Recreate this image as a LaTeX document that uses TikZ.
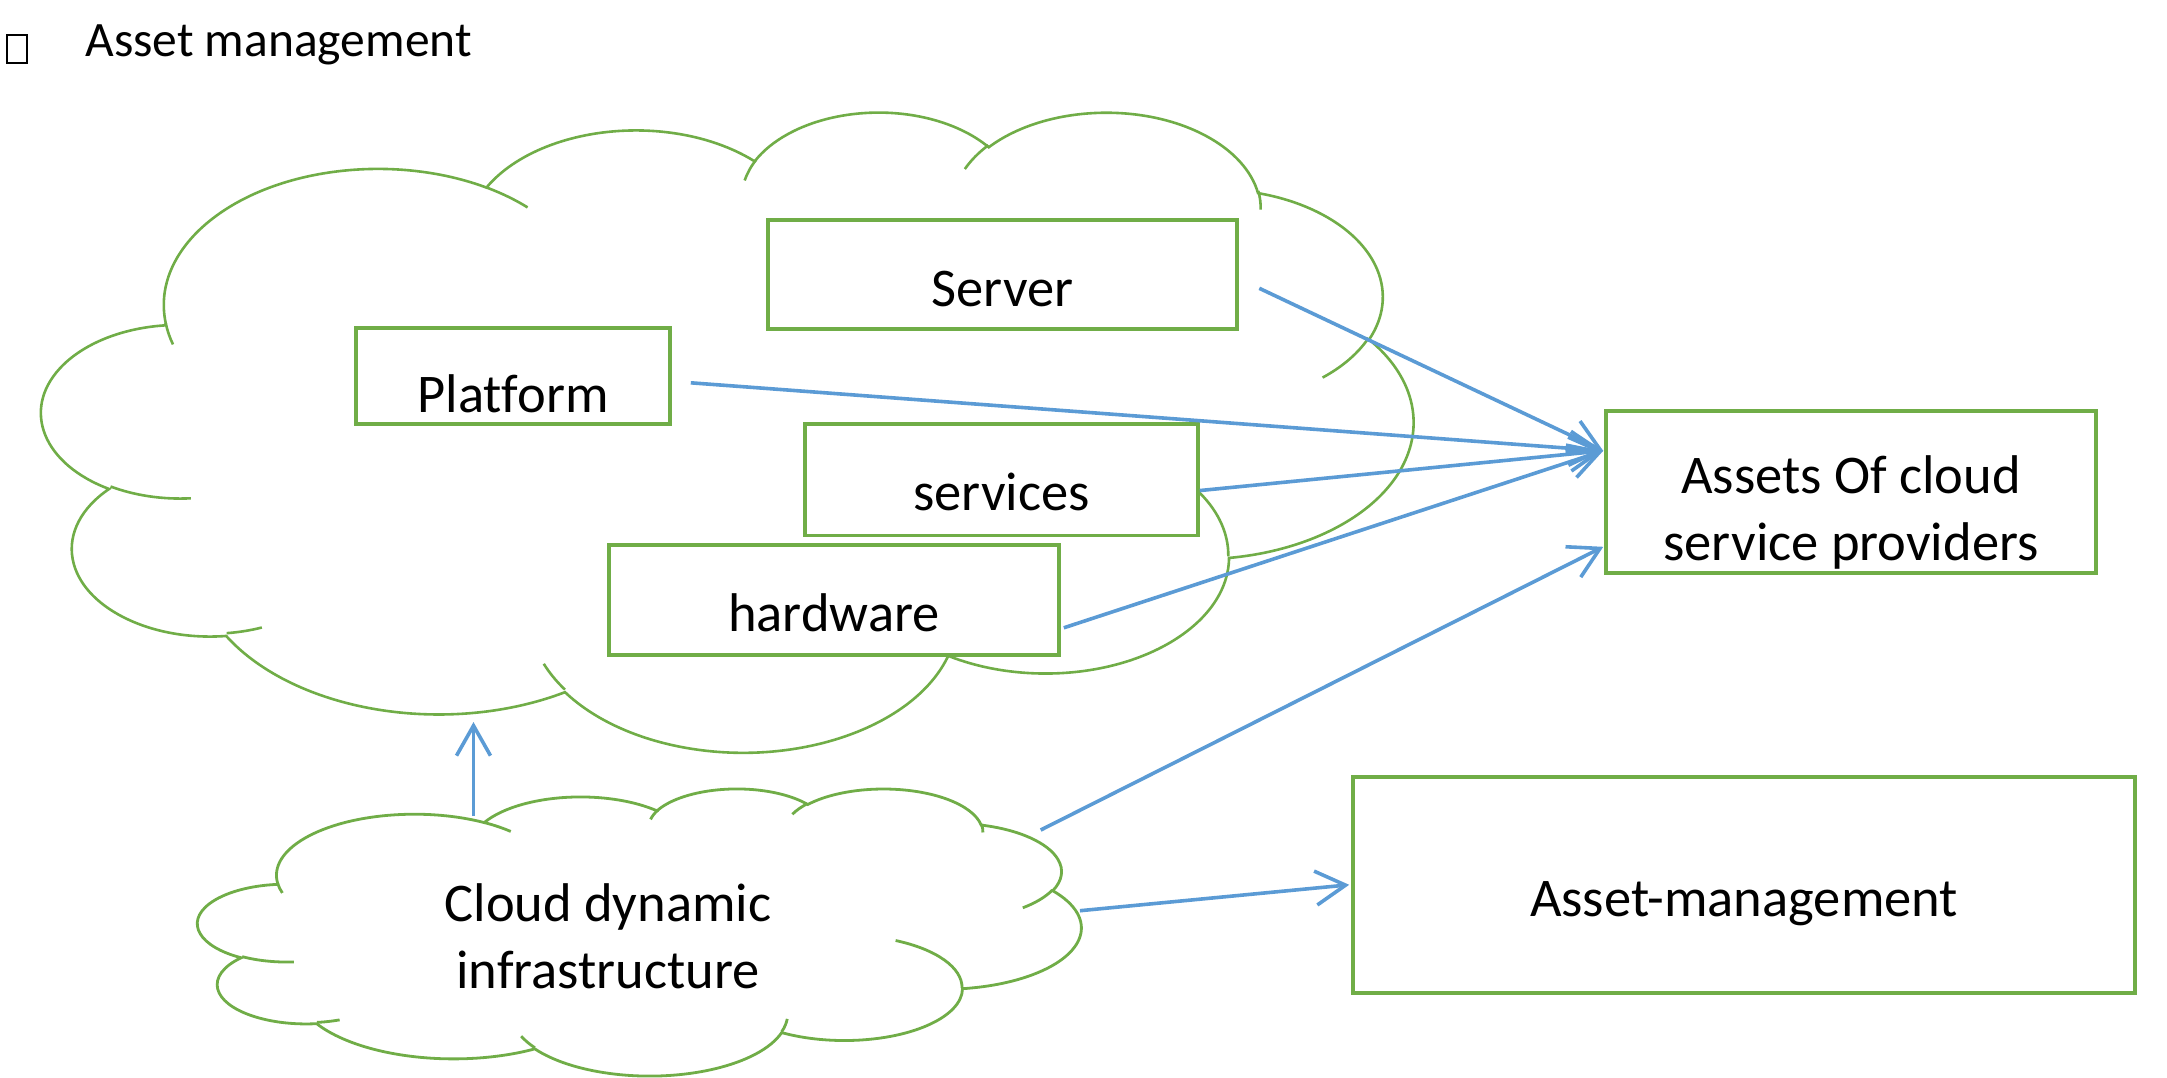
\documentclass[tikz,border=0pt]{standalone}
\usepackage{fontspec}
\setmainfont{Carlito}[Ligatures=NoCommon]
\usetikzlibrary{arrows.meta,positioning}

\definecolor{boxgreen}{RGB}{112,173,71}
\definecolor{arrowblue}{RGB}{91,155,213}

% one cloud arc: x radius, y radius, start angle, sweep (angles as seen, y down)
\newcommand{\cloudarc}[4]{arc[x radius=#1, y radius=#2,
  start angle={atan2(#1*sin(#3),#2*cos(#3))},
  delta angle={mod(atan2(#1*sin(#3+#4),#2*cos(#3+#4))-atan2(#1*sin(#3),#2*cos(#3))+720,360)}]}
% cloud outline on a 432 x 432 grid
\newcommand{\cloudoutline}{(39.00,143.70)
  \cloudarc{67.53}{91.90}{-190.4875}{123.7805}
  \cloudarc{53.33}{72.67}{-144.1024}{89.9452}
  \cloudarc{43.65}{59.45}{-145.8079}{99.7230}
  \cloudarc{48.57}{65.95}{-130.9861}{117.2417}
  \cloudarc{53.33}{72.73}{-78.7089}{109.0269}
  \cloudarc{67.75}{92.20}{-46.2673}{130.2690}
  \cloudarc{57.85}{78.67}{0.6250}{114.0333}
  \cloudarc{67.52}{92.15}{22.4516}{115.1726}
  \cloudarc{77.20}{105.43}{66.2426}{75.7110}
  \cloudarc{43.60}{59.18}{-274.9421}{146.7356}
  \cloudarc{43.45}{59.45}{-246.8285}{152.5189} -- cycle}
% the short inner arcs of the cloud
\newcommand{\cloudhooks}{%
  (46.93,261.77) \cloudarc{43.45}{59.45}{86.7420}{26.4295}
  (69.28,348.99) \cloudarc{43.60}{59.18}{73.6105}{11.4475}
  (164.78,390.90) \cloudarc{67.52}{92.15}{137.6242}{14.0811}
  (288.27,347.51) \cloudarc{67.52}{92.15}{6.4533}{15.9984}
  (341.29,229.54) \cloudarc{57.85}{78.67}{-70.2924}{70.9174}
  (417.98,153.54) \cloudarc{53.33}{72.73}{30.3180}{27.7515}
  (383.24,54.26) \cloudarc{48.57}{65.95}{-13.7443}{14.8589}
  (290.78,39.52) \cloudarc{48.57}{65.95}{-149.1815}{18.1954}
  (221.41,47.20) \cloudarc{43.65}{59.45}{-163.4943}{17.6864}
  (140.00,51.92) \cloudarc{67.53}{91.90}{-66.7070}{12.3194}
  (41.27,157.89) \cloudarc{67.53}{91.90}{157.6544}{11.8605}}

\begin{document}
\begin{tikzpicture}[x=0.5pt,y=-0.5pt,
    box/.style={draw=boxgreen, fill=white, line width=1.8pt, inner sep=0pt,
      anchor=north, font=\fontsize{27.25pt}{33.35pt}\selectfont},
    cloudline/.style={draw=boxgreen, fill=white},
    arr/.style={draw=arrowblue, line width=1.8pt,
      -{Straight Barb[length=15pt,width=17pt]}}]
  \useasboundingbox (0,0) rectangle (2167,1077);

  % Title line
  \node[draw, line width=1pt, minimum width=9.85pt, minimum height=14pt,
    inner sep=0pt, anchor=north west] (tofu) at (6,33.7) {};
  \node[anchor=base west, inner sep=0pt,
    font=\fontsize{24.75pt}{30pt}\selectfont] (title) at (85,56.7) {Asset management};

  % Big cloud
  \begin{scope}[shift={(42,110.5)}, x=1.5868pt, y=-0.7407pt]
    \path[cloudline, line width=1.3pt] \cloudoutline;
    \draw[boxgreen, line width=1.3pt] \cloudhooks;
  \end{scope}

  % Small cloud
  \begin{scope}[shift={(198,788)}, x=1.0220pt, y=-0.3322pt]
    \path[cloudline, line width=1.4pt] \cloudoutline;
    \draw[boxgreen, line width=1.4pt] \cloudhooks;
  \end{scope}
  \node[anchor=base, inner sep=0pt, font=\fontsize{27.25pt}{33.35pt}\selectfont]
    (cdi) at (608,921.7) {\begin{tabular}[t]{@{}c@{}}Cloud dynamic\\infrastructure\end{tabular}};

  % Boxes
  \node[box, minimum width=234.5pt, text height=43.5pt, text depth=11pt]
    (server) at (1002.5,218) {Server};
  \node[box, minimum width=157pt, text height=42.5pt, text depth=5.5pt]
    (platform) at (513,326) {Platform};
  \node[box, minimum width=196.5pt, text height=43.5pt, text depth=12.25pt]
    (services) at (1001.5,422) {services};
  \node[box, minimum width=225pt, text height=43.25pt, text depth=11.75pt]
    (hardware) at (834,543) {hardware};
  \node[box, minimum width=245pt, text height=41.35pt, text depth=39.65pt]
    (assets) at (1851,409) {\begin{tabular}[t]{@{}c@{}}Assets Of cloud\\service providers\end{tabular}};
  \node[box, minimum width=391pt, text height=70pt, text depth=38pt]
    (assetmgmt) at (1744,775) {Asset-management};

  % Arrow ends
  \coordinate (assets-in) at ([shift={(-1,-41)}]assets.west);
  \coordinate (assets-low) at ([shift={(-1,55)}]assets.west);
  \coordinate (bigcloud-in) at (473.5,722);
  \coordinate (smallcloud-top) at (473.5,816);
  \coordinate (smallcloud-ne) at (1040.7,830);
  \coordinate (smallcloud-e) at (1080,910.7);

  % Arrows
  \draw[arr] ([shift={(20.5,14)}]server.east) -- (assets-in);
  \draw[arr] ([shift={(19,7)}]platform.east) -- (assets-in);
  \draw[arr] ([shift={(0,11)}]services.east) -- (assets-in);
  \draw[arr] ([shift={(3,28)}]hardware.east) -- (assets-in);
  \draw[arr] (smallcloud-ne) -- (assets-low);
  \draw[arr] (smallcloud-e) -- ([xshift=-1pt]assetmgmt.west);
  \draw[arr] (smallcloud-top) -- (bigcloud-in);
\end{tikzpicture}
\end{document}
